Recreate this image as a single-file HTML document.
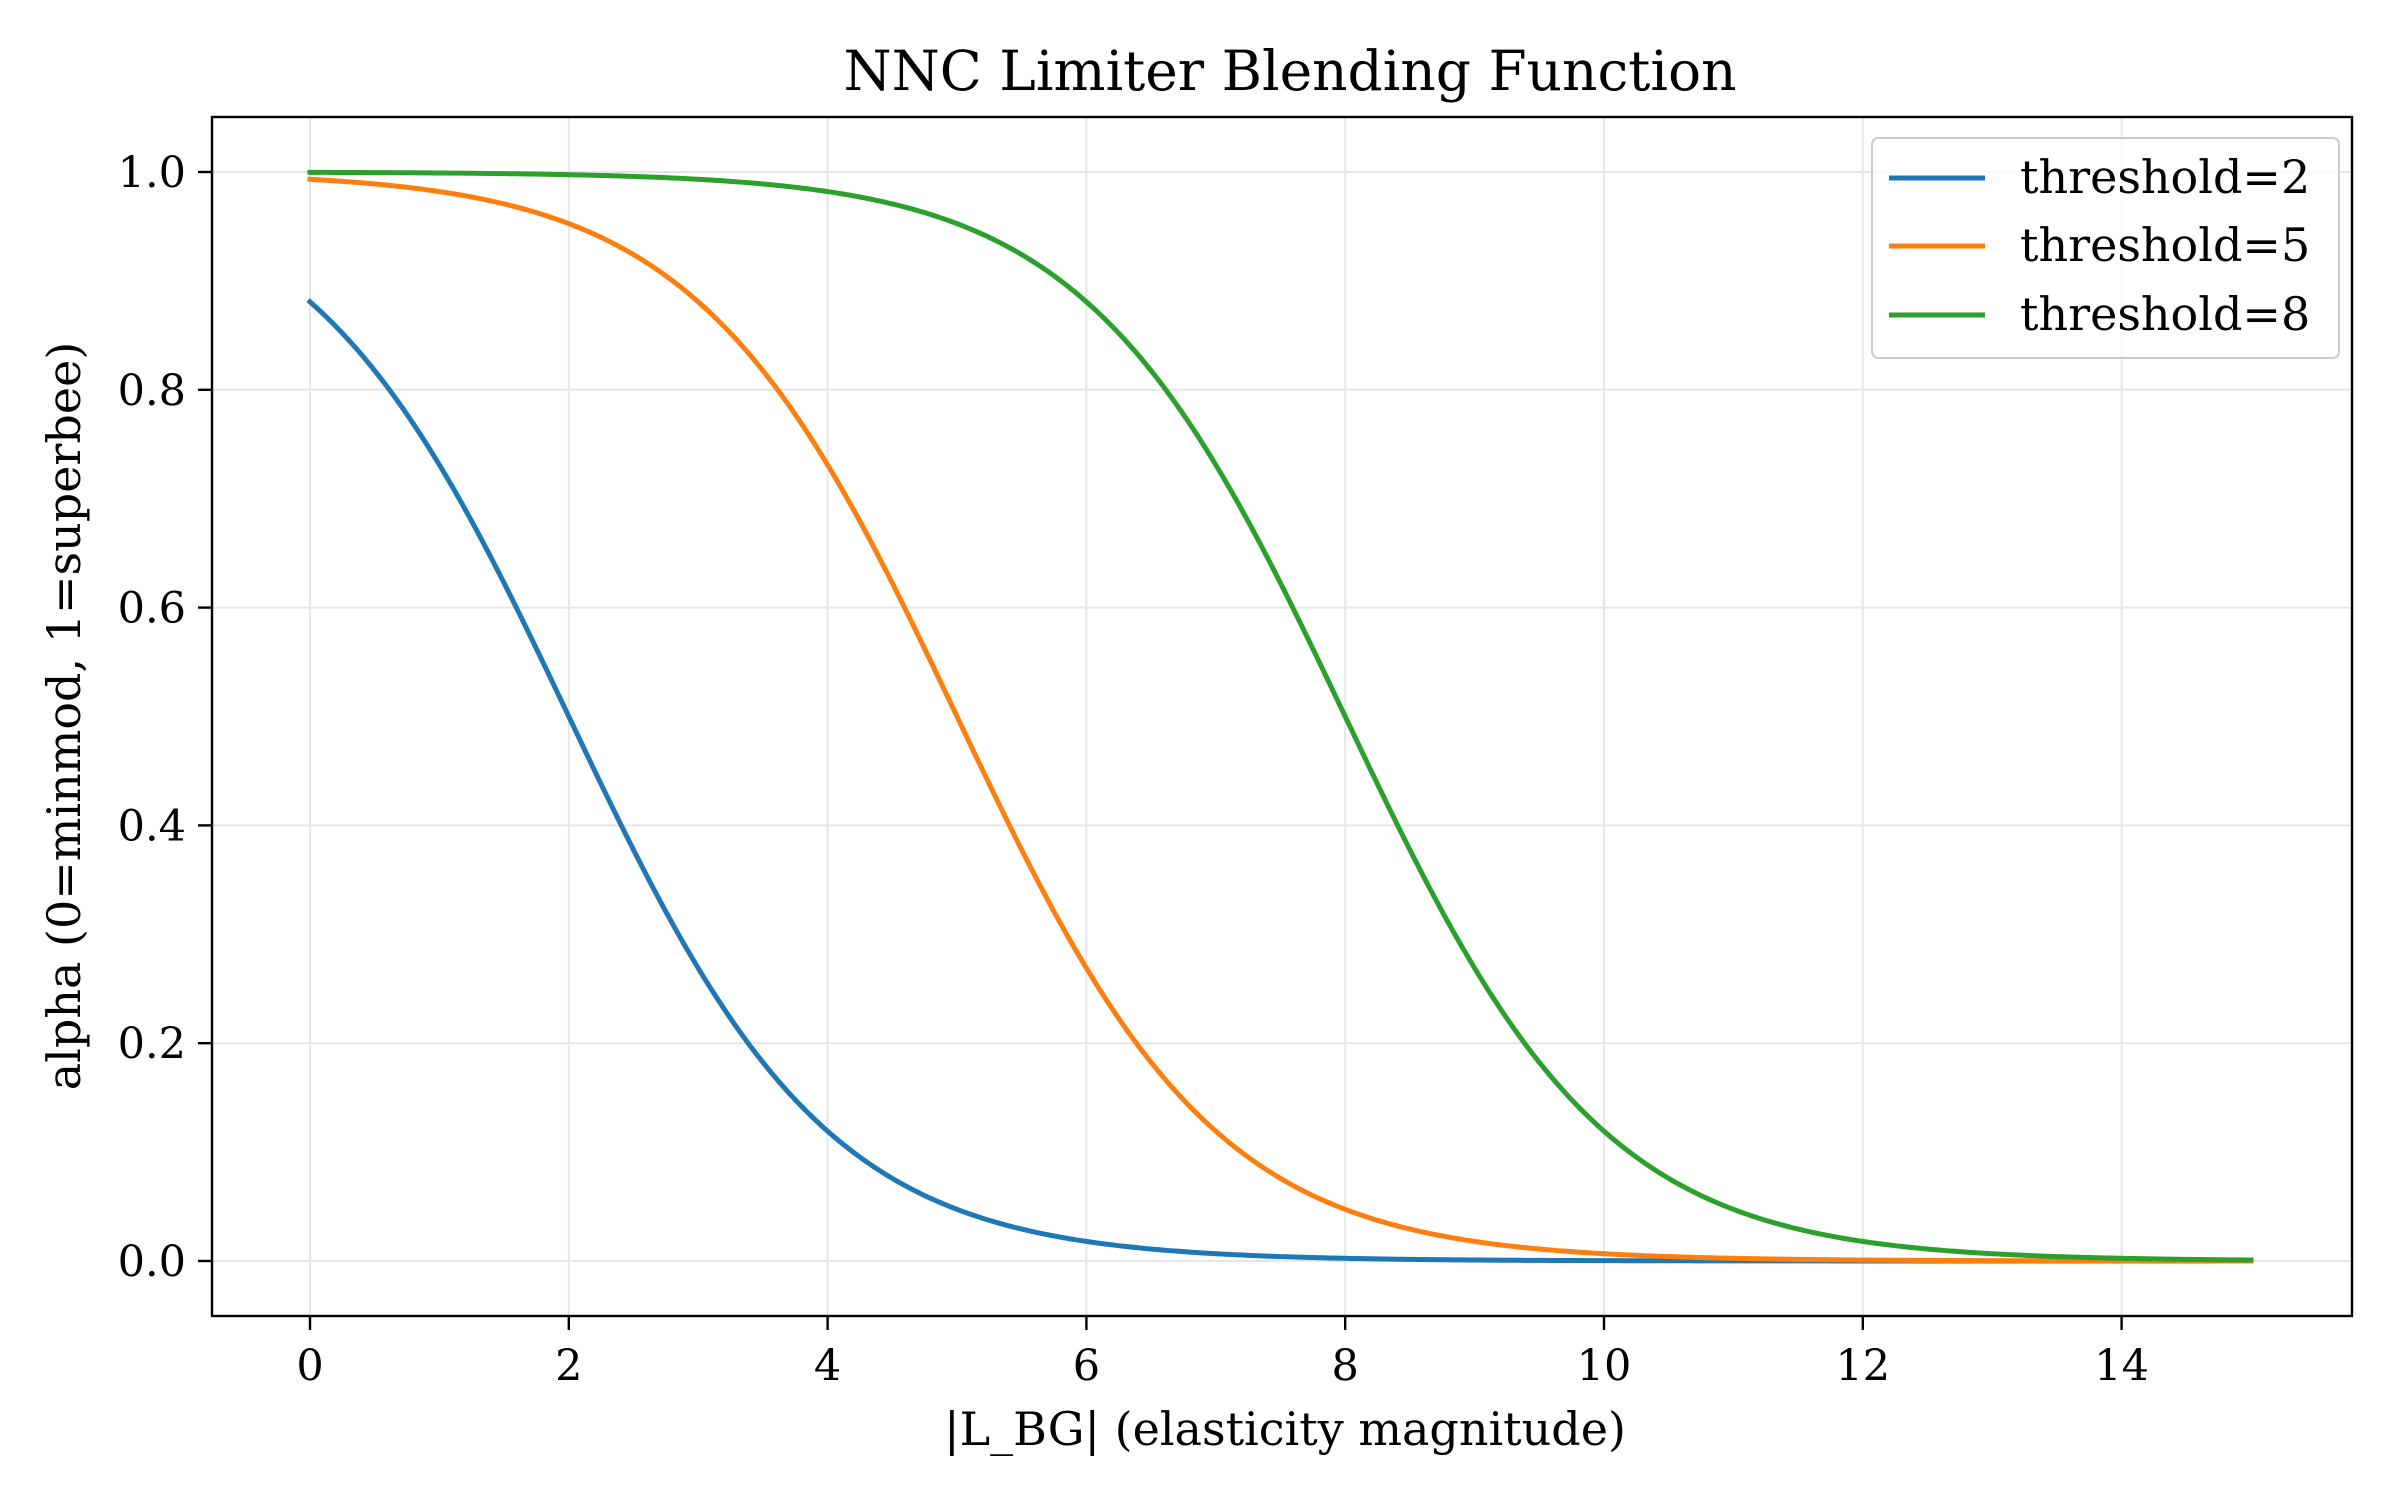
<!DOCTYPE html>
<html><head><meta charset="utf-8"><style>
html,body{margin:0;padding:0;background:#fff;}
svg{display:block;font-family:"DejaVu Serif","Liberation Serif",serif;}
</style></head><body>
<svg id="s" width="2400" height="1500" viewBox="0 0 2400 1500" xmlns="http://www.w3.org/2000/svg">
<rect width="2400" height="1500" fill="#fff"/>
<g id="grid" stroke="#e6e6e6" stroke-width="2"></g>
<g id="curves" fill="none" stroke-width="5" stroke-linejoin="round" stroke-linecap="square"></g>
<rect x="212" y="117" width="2140" height="1199" fill="none" stroke="#000" stroke-width="2.4"/>
<g id="ticks" stroke="#000" stroke-width="2.4"></g>
<g id="labels" font-size="43" fill="#000"></g>
<text x="1290" y="90" font-size="55" text-anchor="middle">NNC Limiter Blending Function</text>
<text x="1285" y="1445" font-size="46" text-anchor="middle">|L_BG| (elasticity magnitude)</text>
<text transform="translate(80,716) rotate(-90)" font-size="46" text-anchor="middle">alpha (0=minmod, 1=superbee)</text>
<rect x="1872" y="138" width="467" height="220" rx="6" fill="#fff" fill-opacity="0.8" stroke="#ccc" stroke-width="2"/>
<line x1="1889" y1="178" x2="1985" y2="178" stroke="#1f77b4" stroke-width="5"/>
<line x1="1889" y1="246" x2="1985" y2="246" stroke="#ff7f0e" stroke-width="5"/>
<line x1="1889" y1="315" x2="1985" y2="315" stroke="#2ca02c" stroke-width="5"/>
<text x="2020" y="193" font-size="46">threshold=2</text>
<text x="2020" y="261" font-size="46">threshold=5</text>
<text x="2020" y="330" font-size="46">threshold=8</text>
</svg>
<script>
var NS="http://www.w3.org/2000/svg";
function X(x){return 310+129.4*x;}
function Y(y){return 1261-1089*y;}
function el(p,t,a,txt){var e=document.createElementNS(NS,t);for(var k in a)e.setAttribute(k,a[k]);if(txt!==undefined)e.textContent=txt;document.getElementById(p).appendChild(e);}
for(var i=0;i<=14;i+=2){var x=X(i);
 el("grid","line",{x1:x,y1:117,x2:x,y2:1316});
 el("ticks","line",{x1:x,y1:1316,x2:x,y2:1330});
 el("labels","text",{x:x,y:1380,"text-anchor":"middle"},String(i));}
for(var j=0;j<=5;j++){var v=j*0.2,y=Y(v);
 el("grid","line",{x1:212,y1:y,x2:2352,y2:y});
 el("ticks","line",{x1:198,y1:y,x2:212,y2:y});
 el("labels","text",{x:186,y:y+15,"text-anchor":"end"},v.toFixed(1));}
[[2,"#1f77b4"],[5,"#ff7f0e"],[8,"#2ca02c"]].forEach(function(c){
 var d="";for(var k=0;k<=600;k++){var x=15*k/600,a=1/(1+Math.exp(x-c[0]));d+=(k?"L":"M")+X(x).toFixed(2)+" "+Y(a).toFixed(2);}
 el("curves","path",{d:d,stroke:c[1]});});
</script>
</body></html>
